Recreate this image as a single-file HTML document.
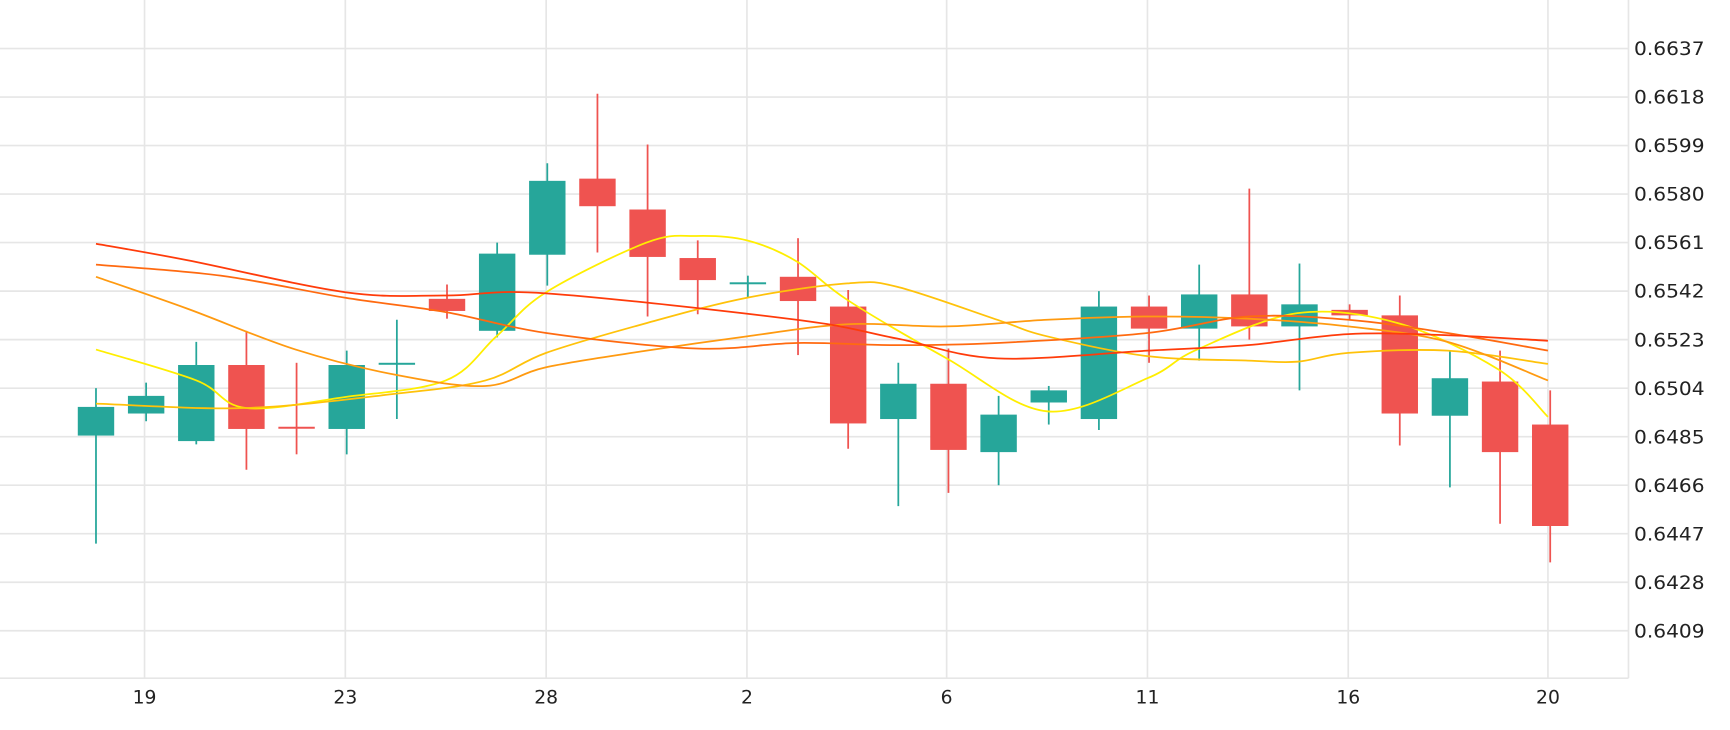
<!DOCTYPE html>
<html><head><meta charset="utf-8">
<style>html,body{margin:0;padding:0;background:#fff;width:1730px;height:730px;overflow:hidden}
svg{display:block}text{font-family:"DejaVu Sans","Liberation Sans",sans-serif;fill:#222}</style></head>
<body>
<svg id="c" width="1730" height="730" viewBox="0 0 1568 662" preserveAspectRatio="none" xmlns="http://www.w3.org/2000/svg"></svg>
<script>
const s=document.getElementById('c');let h='';
const labs=['0.6637','0.6618','0.6599','0.6580','0.6561','0.6542','0.6523','0.6504','0.6485','0.6466','0.6447','0.6428','0.6409'];
labs.forEach((l,i)=>{const y=44+i*44;h+=`<line x1="0" x2="1476" y1="${y}" y2="${y}" stroke="#e6e6e6" stroke-width="1.5"/>`;h+=`<text x="1481" y="${y+6}" font-size="17" textLength="64" lengthAdjust="spacingAndGlyphs">${l}</text>`});
h+=`<line x1="0" x2="1476" y1="615" y2="615" stroke="#e6e6e6" stroke-width="1.5"/>`;
h+=`<line x1="1476" x2="1476" y1="0" y2="615" stroke="#e6e6e6" stroke-width="1.5"/>`;
[[131,'19'],[313,'23'],[495,'28'],[677,'2'],[858,'6'],[1040,'11'],[1222,'16'],[1403,'20']].forEach(([x,t])=>{h+=`<line x1="${x}" x2="${x}" y1="0" y2="615" stroke="#e6e6e6" stroke-width="1.5"/>`;h+=`<text x="${x}" y="638" font-size="17" text-anchor="middle">${t}</text>`});
const C=[[395,369,352,493],[375,359,347,382],[400,331,310,403],[331,389,300,426],[387,387,329,412],[389,331,318,412],[329,329,290,380],[271,282,258,289],[300,230,220,306],[231,164,148,259],[162,187,85,229],[190,233,131,287],[234,254,218,285],[256,256,250,270],[251,273,216,322],[278,384,263,407],[380,348,329,459],[348,408,316,447],[410,376,359,440],[365,354,350,385],[380,278,264,390],[278,298,268,329],[298,267,240,327],[267,296,171,308],[296,276,239,354],[281,286,276,290],[286,375,268,404],[377,343,318,442],[346,410,318,475],[385,477,354,510]];
const M=[[[87,221],[170,236],[313,265],[404,268],[495,266],[722,290],[813,307],[904,325],[1040,318],[1131,313],[1222,303],[1312,304],[1403,309]],'#ff3b0a'],
 L2=[[[87,240],[200,250],[313,270],[404,283],[495,302],[631,316],[722,311],[813,313],[904,311],[1040,302],[1131,287],[1222,290],[1312,302],[1403,318]],'#ff6a10'],
 L3=[[[87,251],[170,280],[268,317],[359,340],[440,350],[495,333],[586,318],[677,305],[768,294],[858,296],[949,290],[1040,287],[1131,289],[1222,296],[1312,310],[1403,345]],'#ff9a10'],
 L4=[[[87,366],[223,370],[359,357],[440,345],[495,320],[586,293],[677,270],[768,257],[813,260],[904,290],[949,305],[1040,323],[1131,327],[1176,328],[1222,320],[1312,318],[1403,330]],'#ffc20a'],
 L5=[[[87,317],[178,345],[223,370],[313,360],[404,345],[450,305],[495,265],[586,220],[631,214],[677,218],[722,237],[768,272],[858,325],[949,373],[1040,343],[1085,317],[1176,284],[1267,293],[1358,335],[1403,378]],'#ffee00'];
function path(p){let d=`M${p[0][0]},${p[0][1]}`;for(let i=0;i<p.length-1;i++){const p0=p[i-1]||p[i],p1=p[i],p2=p[i+1],p3=p[i+2]||p2;
d+=` C${p1[0]+(p2[0]-p0[0])/6},${p1[1]+(p2[1]-p0[1])/6} ${p2[0]-(p3[0]-p1[0])/6},${p2[1]-(p3[1]-p1[1])/6} ${p2[0]},${p2[1]}`}return d}
C.forEach((c,i)=>{const x=87+45.45*i;const [o,cl,hi,lo]=c;const col=cl<o?'#26a69a':(cl>o?'#ef5350':(i==4?'#ef5350':'#26a69a'));
h+=`<line x1="${x}" x2="${x}" y1="${hi}" y2="${lo}" stroke="${col}" stroke-width="1.6"/>`;
const t=Math.min(o,cl),b=Math.max(o,cl);h+=`<rect x="${x-16.5}" y="${t}" width="33" height="${Math.max(b-t,1.8)}" fill="${col}"/>`});
[L5,L4,L3,L2,M].forEach(([p,c])=>{h+=`<path d="${path(p)}" fill="none" stroke="${c}" stroke-width="1.6"/>`});
s.innerHTML=h;
</script>
</body></html>
